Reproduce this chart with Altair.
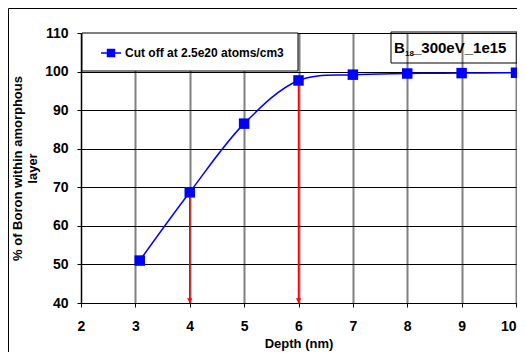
import altair as alt
import pandas as pd

# ---- data ----
depth = [3.08, 4, 5, 6, 7, 8, 9, 10]
boron = [51.0, 68.7, 86.5, 97.7, 99.2, 99.5, 99.6, 99.7]
series_name = "Cut off at 2.5e20 atoms/cm3"

arrow_x = [4, 6]
arrow_top = [68.7, 97.7]
arrow_bottom = [40, 40]

x_ticks = [2, 3, 4, 5, 6, 7, 8, 9, 10]
y_ticks = [40, 50, 60, 70, 80, 90, 100, 110]

FONT = "Liberation Sans"
BLUE = "#0000ff"
RED = "#ff0000"

df = pd.DataFrame({"depth": depth, "boron": boron, "series": [series_name] * len(depth)})
arrows = pd.DataFrame({"x": arrow_x, "top": arrow_top, "bottom": arrow_bottom})
one = pd.DataFrame({"a": [0]})

xscale = alt.Scale(domain=[2, 10], nice=False, zero=False)
yscale = alt.Scale(domain=[40, 110], nice=False, zero=False)

xaxis = alt.Axis(values=x_ticks, title="Depth (nm)", grid=True, gridColor="#808080",
                 gridWidth=2, labelFontSize=14, labelFontWeight="bold", labelFont=FONT,
                 labelPadding=12, titleFont=FONT, titleFontSize=13, titleFontWeight="bold",
                 titlePadding=4, domainColor="black", tickColor="black", tickSize=4,
                 labelColor="black", titleColor="black", format="d", labelFlush=False,
                 labelOverlap=False,
                 labelAlign={"condition": {"test": "datum.value >= 10", "value": "right"},
                             "value": "center"},
                 labelBound=False)
yaxis = alt.Axis(values=y_ticks, title=["% of Boron within amorphous", "layer"], grid=True,
                 gridColor="black", gridWidth=1, labelFontSize=14, labelFontWeight="bold",
                 labelFont=FONT, labelPadding=9, titleFont=FONT, titleFontSize=13,
                 titleFontWeight="bold", titleLineHeight=15, titlePadding=5,
                 domainColor="black", tickColor="black", tickSize=4, labelColor="black",
                 titleColor="black", format="d", labelFlush=False, labelOverlap=False,
                 labelBound=False)


def X(field):
    return alt.X(field, type="quantitative", scale=xscale, axis=xaxis)


def Y(field):
    return alt.Y(field, type="quantitative", scale=yscale, axis=yaxis)


base = alt.Chart(df)

# outer frame of the figure
frame = alt.Chart(one).mark_rect(fill=None, stroke="black", strokeWidth=1).encode(
    x=alt.value(-72.5), x2=alt.value(700), y=alt.value(-24.5), y2=alt.value(500))

# red arrows
arrow_lines = alt.Chart(arrows).mark_rule(color=RED, strokeWidth=1.5).encode(
    x=X("x"), y=Y("top"), y2="bottom:Q")
arrow_heads = alt.Chart(arrows).mark_point(shape="triangle-down", filled=True, color=RED,
                                            size=28, opacity=1, yOffset=-2.5).encode(
    x=X("x"), y=Y("bottom"))

line = base.mark_line(interpolate="catmull-rom", strokeWidth=1.5).encode(
    x=X("depth"), y=Y("boron"),
    color=alt.Color("series:N", scale=alt.Scale(range=[BLUE]),
                    legend=alt.Legend(
                        title=None, orient="none", legendX=19, legendY=9, padding=0,
                        symbolType="M-1,0H1M-0.35,-0.35H0.35V0.35H-0.35Z",
                        symbolSize=400, labelFont=FONT, labelFontSize=12,
                        labelFontWeight="bold", labelColor="black", labelOffset=3,
                        labelLimit=400, symbolFillColor=BLUE, symbolStrokeColor=BLUE,
                        symbolStrokeWidth=1.5, symbolOpacity=1)))
points = base.mark_point(shape="square", filled=True, color=BLUE, size=110, opacity=1).encode(
    x=X("depth"), y=Y("boron"))

# legend box
legend_box = alt.Chart(one).mark_rect(fill="white", stroke="black", strokeWidth=1).encode(
    x=alt.value(1), x2=alt.value(217), y=alt.value(0), y2=alt.value(38))

# label box B18_300eV_1e15
label_box = alt.Chart(one).mark_rect(fill=None, stroke="black", strokeWidth=1).encode(
    x=alt.value(310), x2=alt.value(436), y=alt.value(-1), y2=alt.value(30))
t1 = alt.Chart(one).mark_text(text="B", font=FONT, fontSize=15, fontWeight="bold",
                              align="left", baseline="alphabetic", color="black").encode(
    x=alt.value(313), y=alt.value(19.5))
t2 = alt.Chart(one).mark_text(text="18", font=FONT, fontSize=8, fontWeight="bold",
                              align="left", baseline="alphabetic", color="black").encode(
    x=alt.value(324), y=alt.value(23))
t3 = alt.Chart(one).mark_text(text="_300eV_1e15", font=FONT, fontSize=15, fontWeight="bold",
                              align="left", baseline="alphabetic", color="black").encode(
    x=alt.value(332), y=alt.value(19.5))

chart = alt.layer(frame, arrow_lines, arrow_heads, line, points, legend_box,
                  label_box, t1, t2, t3).properties(
    width=435, height=270,
    autosize=alt.AutoSizeParams(type="none"),
    padding={"left": 73, "top": 25, "right": 1, "bottom": 49},
    background="white",
).configure_view(stroke="black", strokeWidth=1).configure_axis(gridOpacity=1)

chart.save("out.html", embed_options={"renderer": "svg", "actions": False})
